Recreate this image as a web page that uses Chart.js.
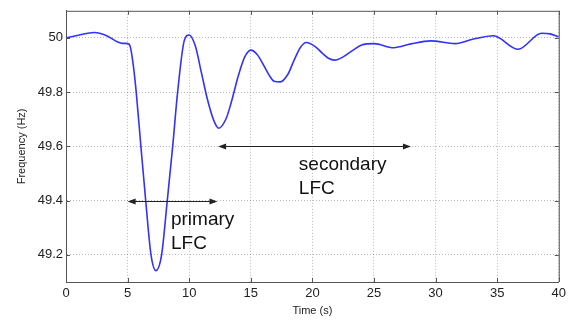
<!DOCTYPE html>
<html><head><meta charset="utf-8">
<script src="https://cdn.jsdelivr.net/npm/chart.js@4"></script>
<style>html,body{margin:0;padding:0;background:#fff;overflow:hidden}</style>
</head><body>
<canvas id="c" width="570" height="320"></canvas>
<script>
// Time (s)
const timeS = [0, 1.0, 2.3, 3.3, 4.2, 4.6, 5.0, 5.2, 5.46, 5.7, 6.08, 6.47, 6.9, 7.3, 7.76, 8.22, 8.66, 9.06, 9.6, 10.0,
  10.5, 11.0, 11.5, 12.0, 12.4, 13.0, 13.4, 14.0, 14.5, 15.0, 15.5, 16.0, 16.5, 16.9, 17.4, 18.0, 18.5, 19.0, 19.5,
  20.2, 20.8, 21.3, 21.8, 22.5, 23.3, 24.0, 25.0, 26.6, 28.0, 29.6, 31.6, 33.0, 34.7, 36.7, 38.6, 39.3, 40.0];
// Frequency (Hz)
const freqHz = [50.000, 50.010, 50.020, 50.008, 49.985, 49.980, 49.979, 49.970, 49.90, 49.80, 49.60, 49.40, 49.20, 49.142, 49.20, 49.40, 49.60, 49.80, 49.99, 50.011,
  49.97, 49.87, 49.77, 49.695, 49.667, 49.703, 49.76, 49.862, 49.929, 49.955, 49.940, 49.903, 49.862, 49.840, 49.838, 49.865, 49.916, 49.963, 49.983,
  49.969, 49.944, 49.925, 49.918, 49.93, 49.955, 49.974, 49.979, 49.964, 49.978, 49.989, 49.979, 49.995, 50.008, 49.958, 50.017, 50.015, 50.004];
const xTickValues = [0, 5, 10, 15, 20, 25, 30, 35, 40];
const yTickValues = [49.2, 49.4, 49.6, 49.8, 50];
const xTitle = 'Time (s)';
const yTitle = 'Frequency (Hz)';
// annotation spans (time from/to at frequency level)
const arrowFrom = [5, 12.35];
const arrowTo = [12.3, 28];
const arrowLevel = [49.4, 49.6];
// annotation texts, anchored at (time, frequency) of first baseline
const noteLines = [['primary', 'LFC'], ['secondary', 'LFC']];
const noteTime = [8.52, 18.9];
const noteFreq = [49.311, 49.514];

const FONT = "'Liberation Sans', Arial, Helvetica, sans-serif";

const decor = {
  id: 'decor',
  afterDraw(chart) {
    const ctx = chart.ctx;
    const a = chart.chartArea;
    const xs = chart.scales.x, ys = chart.scales.y;
    ctx.save();
    // frame top/right
    ctx.strokeStyle = '#555';
    ctx.lineWidth = 1;
    ctx.beginPath();
    ctx.moveTo(a.left, a.top + 0.5); ctx.lineTo(a.right + 0.5, a.top + 0.5); ctx.lineTo(a.right + 0.5, a.bottom);
    ctx.stroke();
    // inner ticks
    const tl = 4;
    ctx.beginPath();
    xTickValues.forEach(v => {
      const px = Math.round(xs.getPixelForValue(v)) + 0.5;
      ctx.moveTo(px, a.bottom); ctx.lineTo(px, a.bottom - tl);
      ctx.moveTo(px, a.top); ctx.lineTo(px, a.top + tl);
    });
    yTickValues.forEach(v => {
      const py = Math.round(ys.getPixelForValue(v)) + 0.5;
      ctx.moveTo(a.left, py); ctx.lineTo(a.left + tl, py);
      ctx.moveTo(a.right, py); ctx.lineTo(a.right - tl, py);
    });
    ctx.stroke();
    // arrows
    ctx.strokeStyle = '#222';
    ctx.fillStyle = '#222';
    for (let i = 0; i < arrowFrom.length; i++) {
      const x1 = xs.getPixelForValue(arrowFrom[i]);
      const x2 = xs.getPixelForValue(arrowTo[i]);
      const y = Math.round(ys.getPixelForValue(arrowLevel[i])) + 0.5;
      ctx.beginPath(); ctx.moveTo(x1 + 3, y); ctx.lineTo(x2 - 3, y); ctx.stroke();
      ctx.beginPath(); ctx.moveTo(x1, y); ctx.lineTo(x1 + 8, y - 3); ctx.lineTo(x1 + 8, y + 3); ctx.closePath(); ctx.fill();
      ctx.beginPath(); ctx.moveTo(x2, y); ctx.lineTo(x2 - 8, y - 3); ctx.lineTo(x2 - 8, y + 3); ctx.closePath(); ctx.fill();
    }
    // texts
    ctx.fillStyle = '#111';
    ctx.font = '19px ' + FONT;
    ctx.textAlign = 'left';
    ctx.textBaseline = 'alphabetic';
    for (let i = 0; i < noteLines.length; i++) {
      const x = xs.getPixelForValue(noteTime[i]);
      const y = ys.getPixelForValue(noteFreq[i]);
      noteLines[i].forEach((s, j) => ctx.fillText(s, x, y + j * 24));
    }
    ctx.restore();
  }
};

new Chart(document.getElementById('c'), {
  type: 'line',
  data: {
    datasets: [{
      data: timeS.map((t, i) => ({x: t, y: freqHz[i]})),
      borderColor: 'rgb(50,50,255)',
      borderWidth: 1.6,
      pointRadius: 0,
      fill: false,
      cubicInterpolationMode: 'monotone'
    }]
  },
  options: {
    responsive: false,
    devicePixelRatio: 1,
    animation: false,
    events: [],
    layout: {padding: {left: 0, right: 11, top: 10, bottom: 0}},
    plugins: {legend: {display: false}, tooltip: {enabled: false}, title: {display: false}},
    scales: {
      x: {
        type: 'linear', min: 0, max: 40,
        afterBuildTicks: s => { s.ticks = xTickValues.map(v => ({value: v})); },
        afterFit: s => { s.height = 38; },
        ticks: {callback: v => String(v), color: '#222', font: {family: FONT, size: 13}, padding: 4, maxRotation: 0, autoSkip: false},
        grid: {color: 'rgba(0,0,0,0.28)', lineWidth: 1, drawTicks: false},
        border: {display: true, color: '#555', width: 1, dash: [1, 2]},
        title: {display: true, text: xTitle, color: '#222', font: {family: FONT, size: 11}, padding: {top: 0, bottom: 2}}
      },
      y: {
        type: 'linear', min: 49.1, max: 50.1,
        afterBuildTicks: s => { s.ticks = yTickValues.map(v => ({value: v})); },
        afterFit: s => { s.width = 66; },
        ticks: {callback: v => String(Math.round(v * 10) / 10), color: '#222', font: {family: FONT, size: 13}, padding: 3},
        grid: {color: 'rgba(0,0,0,0.28)', lineWidth: 1, drawTicks: false},
        border: {display: true, color: '#555', width: 1, dash: [1, 2]},
        title: {display: true, text: yTitle, color: '#222', font: {family: FONT, size: 11}, padding: {top: 15, bottom: 0}}
      }
    }
  },
  plugins: [decor]
});
</script>
</body></html>
